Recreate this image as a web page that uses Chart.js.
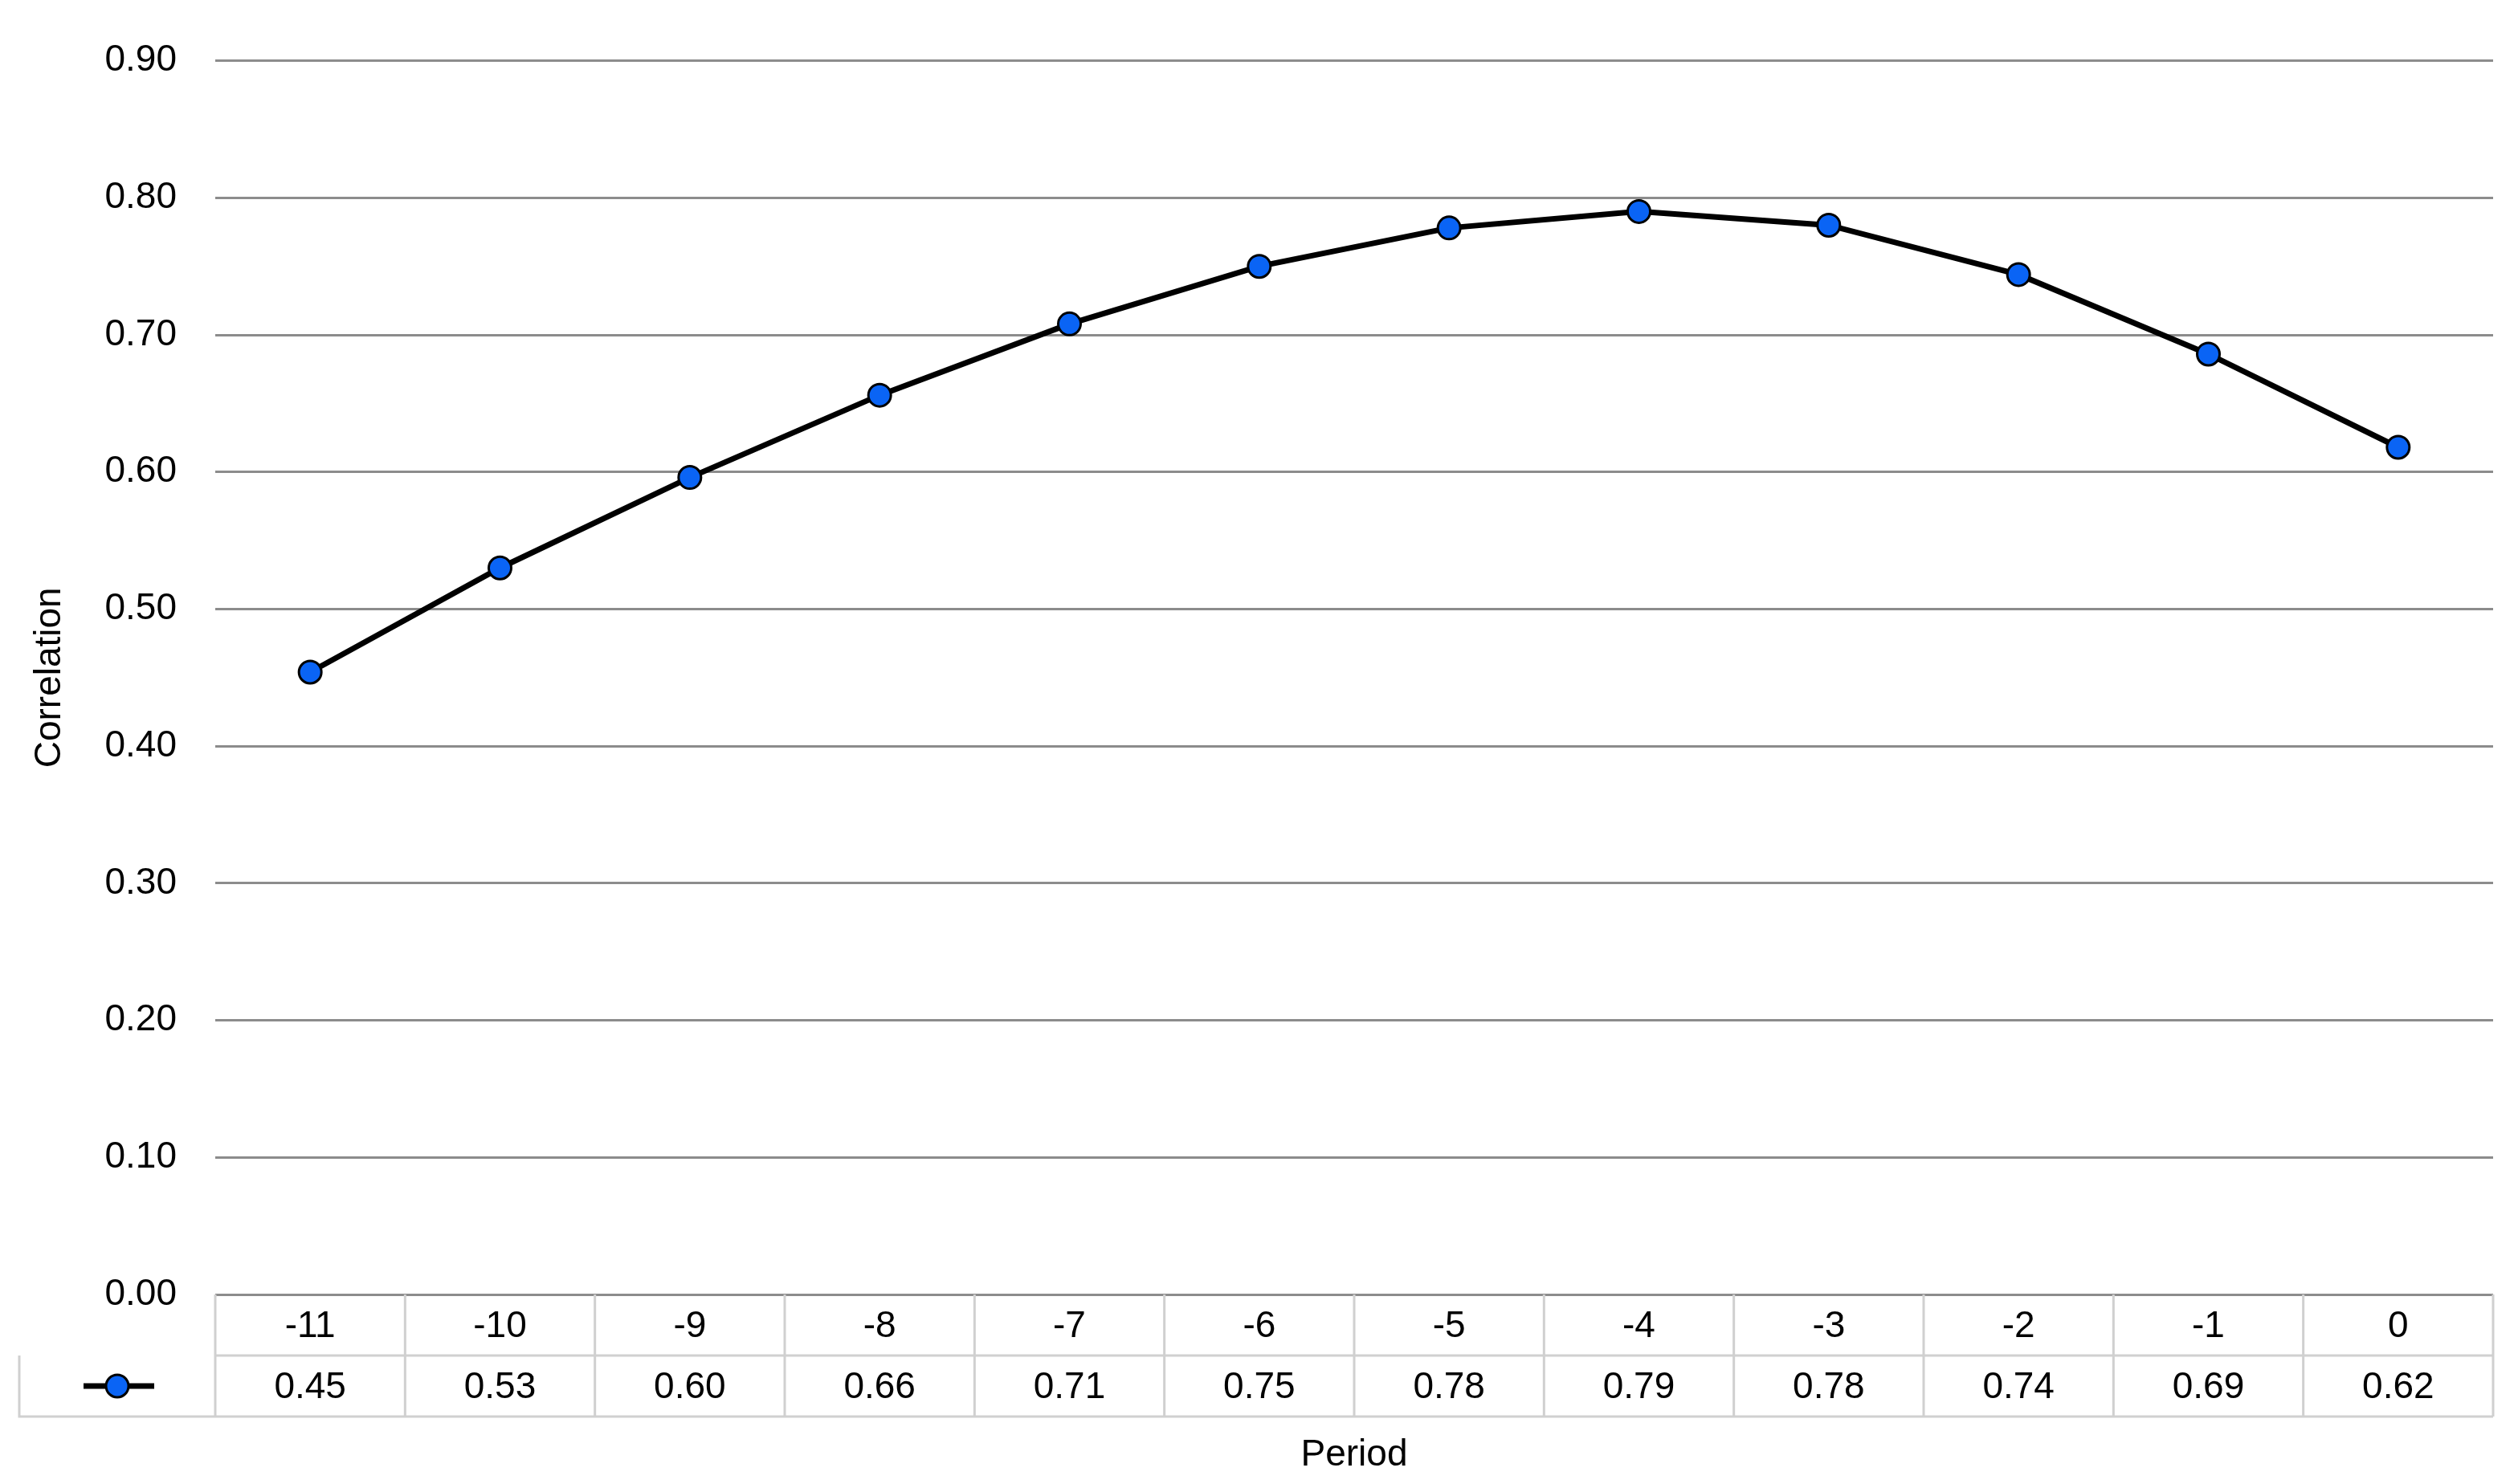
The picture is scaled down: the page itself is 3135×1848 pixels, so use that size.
<!DOCTYPE html>
<html lang="en">
<head>
<meta charset="UTF-8">
<title>Correlation by Period</title>
<script src="https://cdn.jsdelivr.net/npm/chart.js"></script>
<style>
  html, body { margin: 0; padding: 0; background: #fff; }
  #wrap { width: 3135px; height: 1848px; }
</style>
</head>
<body>
<div id="wrap"><canvas id="chart"></canvas></div>
<script>
  // data
  const periods = ['-11', '-10', '-9', '-8', '-7', '-6', '-5', '-4', '-3', '-2', '-1', '0'];
  const correlation = [0.454, 0.53, 0.596, 0.656, 0.708, 0.75, 0.778, 0.79, 0.78, 0.744, 0.686, 0.618];
  const yTicks = [0, 0.1, 0.2, 0.3, 0.4, 0.5, 0.6, 0.7, 0.8, 0.9];

  const FONT = '"Liberation Sans", Arial, sans-serif';
  const tableBorder = '#d0d0d0';

  // draws the data table under the plot plus the axis titles
  const dataTable = {
    id: 'dataTable',
    afterDraw(chart) {
      const ctx = chart.ctx;
      const x = chart.scales.x;
      const area = chart.chartArea;
      const top = area.bottom;
      const rowH = 76;
      const step = x.getPixelForValue(1) - x.getPixelForValue(0);
      const tableLeft = 24;
      ctx.save();
      ctx.strokeStyle = tableBorder;
      ctx.lineWidth = 3;
      ctx.beginPath();
      ctx.moveTo(area.left, top + rowH); ctx.lineTo(area.right, top + rowH);
      ctx.moveTo(tableLeft, top + rowH); ctx.lineTo(tableLeft, top + 2 * rowH);
      ctx.lineTo(area.right, top + 2 * rowH);
      for (let i = 0; i <= periods.length; i++) {
        const px = x.getPixelForValue(0) - step / 2 + i * step;
        ctx.moveTo(px, top); ctx.lineTo(px, top + 2 * rowH);
      }
      ctx.stroke();

      ctx.fillStyle = '#000';
      ctx.font = '46px ' + FONT;
      ctx.textAlign = 'center';
      ctx.textBaseline = 'middle';
      periods.forEach((p, i) => {
        const px = x.getPixelForValue(i);
        ctx.fillText(p, px, top + rowH / 2 + 2);
        ctx.fillText(correlation[i].toFixed(2), px, top + rowH * 1.5 + 2);
      });

      // legend key in the value row
      const ky = top + rowH * 1.5;
      ctx.strokeStyle = '#000';
      ctx.lineWidth = 7;
      ctx.beginPath(); ctx.moveTo(104, ky); ctx.lineTo(192, ky); ctx.stroke();
      ctx.beginPath(); ctx.arc(146, ky, 14, 0, Math.PI * 2);
      ctx.fillStyle = '#0a64f5'; ctx.fill();
      ctx.lineWidth = 3; ctx.stroke();

      // axis titles
      ctx.fillStyle = '#000';
      ctx.font = '46px ' + FONT;
      ctx.fillText('Period', (area.left + area.right) / 2, 1812);
      ctx.translate(62, (area.top + area.bottom) / 2);
      ctx.rotate(-Math.PI / 2);
      ctx.fillText('Correlation', 0, 0);
      ctx.restore();
    }
  };

  new Chart(document.getElementById('chart'), {
    type: 'line',
    data: {
      labels: periods,
      datasets: [{
        data: correlation,
        borderColor: '#000',
        borderWidth: 7,
        backgroundColor: '#0a64f5',
        pointBackgroundColor: '#0a64f5',
        pointBorderColor: '#000',
        pointBorderWidth: 3,
        pointRadius: 14,
        tension: 0
      }]
    },
    options: {
      responsive: true,
      maintainAspectRatio: false,
      animation: false,
      layout: { padding: { top: 42, right: 31, left: 0, bottom: 0 } },
      plugins: { legend: { display: false }, tooltip: { enabled: false } },
      scales: {
        x: {
          offset: true,
          grid: { display: false },
          border: { display: false },
          ticks: { display: false },
          afterFit(s) { s.height = 236; }
        },
        y: {
          min: 0, max: 0.9,
          afterFit(s) { s.width = 268; },
          afterBuildTicks(s) { s.ticks = yTicks.map(v => ({ value: v })); },
          border: { display: false },
          grid: { color: '#8c8c8c', lineWidth: 3, drawTicks: false },
          ticks: {
            padding: 48,
            color: '#000',
            font: { size: 46, family: FONT },
            callback: v => v.toFixed(2)
          }
        }
      }
    },
    plugins: [dataTable]
  });
</script>
</body>
</html>
